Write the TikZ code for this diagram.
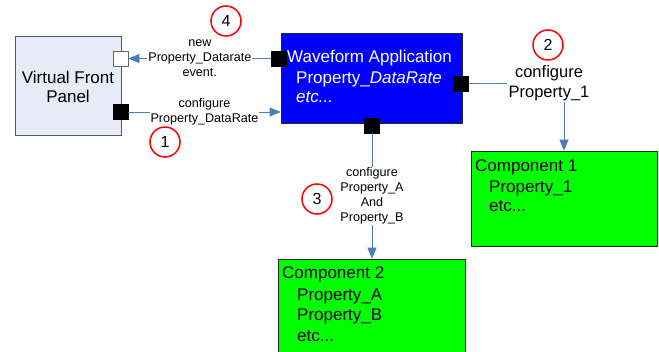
\documentclass[tikz,border=0pt]{standalone}
\usepackage{fontspec}
\setmainfont{Liberation Sans}
\usetikzlibrary{arrows.meta}
\definecolor{vfpfill}{RGB}{230,236,247}
\definecolor{linkblue}{RGB}{74,126,187}
\begin{document}
\begin{tikzpicture}[x=1pt,y=-1pt,
  boxbase/.style={draw, inner sep=0pt, line width=0.7pt},
  vfpbox/.style={boxbase, draw=black!65, fill=vfpfill},
  wfbox/.style={boxbase, draw=black!85, fill=blue},
  compbox/.style={boxbase, draw=black!85, fill=green},
  portb/.style={draw=black, fill=black, minimum size=15pt, inner sep=0pt, line width=0.5pt},
  portw/.style={draw=black!60, fill=white, minimum size=15pt, inner sep=0pt, line width=0.8pt},
  conn/.style={draw=linkblue, line width=0.8pt, -{Triangle[length=11pt,width=9pt]}},
  plainconn/.style={draw=linkblue, line width=0.8pt},
  lbl/.style={fill=white, inner sep=1pt, align=center, font=\fontsize{12.6}{15}\selectfont},
  num/.style={circle, draw=red, line width=1.5pt, fill=white, minimum size=30pt, inner sep=0pt, font=\fontsize{16}{16}\selectfont},
  txt/.style={anchor=base west, inner sep=0pt, font=\fontsize{17}{19}\selectfont}
]
\clip (0,0) rectangle (659,352);
\fill[white] (0,0) rectangle (659,352);
% boxes
\node[vfpbox, minimum width=106pt, minimum height=99pt] (vfp) at (68,85.5) {};
\node[align=center, inner sep=0pt, font=\fontsize{17}{19}\selectfont] (vfptxt) at (68,87) {Virtual Front\\Panel};
\node[wfbox, minimum width=181pt, minimum height=90pt] (wf) at (371.5,78) {};
\node[txt, text=white] (wf1) at (287,63) {Waveform Application};
\node[txt, text=white] (wf2) at (296,83.5) {Property\_\textit{DataRate}};
\node[txt, text=white] (wf3) at (296,103) {\textit{etc...}};
\node[compbox, minimum width=186pt, minimum height=95pt] (c1) at (564,198.5) {};
\node[txt] (c1a) at (475,171.5) {Component 1};
\node[txt] (c1b) at (489,192.5) {Property\_1};
\node[txt] (c1c) at (489,212) {etc...};
\node[compbox, minimum width=187pt, minimum height=101pt] (c2) at (371.5,309.5) {};
\node[txt] (c2a) at (282,279) {Component 2};
\node[txt] (c2b) at (297,300.5) {Property\_A};
\node[txt] (c2c) at (297,320.5) {Property\_B};
\node[txt] (c2d) at (297,341.5) {etc...};
% ports
\node[portw] (vfpW) at (120.5,58.5) {};
\node[portb] (vfpB) at (120.5,112) {};
\node[portb] (wfL) at (279,58.5) {};
\node[portb] (wfR) at (461,83.5) {};
\node[portb] (wfB) at (372,125.5) {};
% connectors
\draw[conn] (wfL) -- node[lbl] (l4) {new\\Property\_Datarate\\event.} (vfpW);
\draw[conn] (vfpB) -- node[lbl] (l1) {configure\\Property\_DataRate} (vfpB -| wf.west);
\node[lbl, font=\fontsize{16.5}{20}\selectfont] (l2) at (549,83) {configure\\Property\_1};
\draw[plainconn] (wfR.east) -- (wfR.east -| l2.west);
\draw[conn] (c1.north |- l2.south) -- (c1.north);
\draw[conn] (wfB) -- node[lbl] (l3) {configure\\Property\_A\\And\\Property\_B} (wfB |- c2.north);
% numbers
\node[num] (n4) at (226,21) {4};
\node[num] (n1) at (165,142) {1};
\node[num] (n2) at (548,45) {2};
\node[num] (n3) at (317,199) {3};
\end{tikzpicture}
\end{document}
